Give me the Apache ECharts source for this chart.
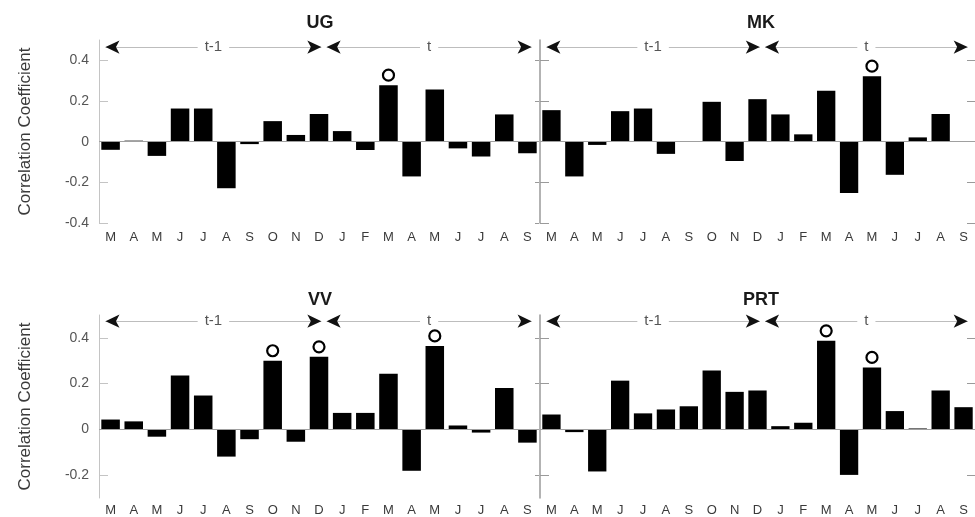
<!DOCTYPE html>
<html>
<head>
<meta charset="utf-8">
<script src="https://cdn.jsdelivr.net/npm/echarts@6/dist/echarts.min.js"></script>
<style>
html,body{margin:0;padding:0;background:#fff;}
#chart{width:975px;height:517px;}
</style>
</head>
<body>
<div id="chart"></div>
<script>
// ---- data ----
const months = ['M','A','M','J','J','A','S','O','N','D','J','F','M','A','M','J','J','A','S'];
const ugValues  = [-0.04, 0.005, -0.07, 0.163, 0.163, -0.229, -0.012, 0.101, 0.033, 0.136, 0.052, -0.041, 0.278, -0.171, 0.256, -0.033, -0.073, 0.134, -0.057];
const mkValues  = [0.155, -0.171, -0.016, 0.150, 0.163, -0.06, 0.003, 0.196, -0.095, 0.209, 0.134, 0.036, 0.25, -0.253, 0.322, -0.163, 0.021, 0.136, 0];
const vvValues  = [0.043, 0.035, -0.032, 0.236, 0.148, -0.119, -0.043, 0.30, -0.054, 0.317, 0.072, 0.072, 0.243, -0.181, 0.365, 0.017, -0.014, 0.181, -0.058];
const prtValues = [0.065, -0.012, -0.184, 0.213, 0.070, 0.087, 0.101, 0.257, 0.164, 0.170, 0.014, 0.029, 0.387, -0.199, 0.271, 0.080, 0.004, 0.170, 0.097];
const ugSignificant  = [12];
const mkSignificant  = [14];
const vvSignificant  = [7, 9, 14];
const prtSignificant = [12, 14];
const panelNames = ['UG', 'MK', 'VV', 'PRT'];
const periodNames = ['t-1', 't'];
const periodStart = [0.28, 9.83];   // in category units
const periodEnd   = [9.6, 18.68];
const yTicksTop    = [-0.4, -0.2, 0, 0.2, 0.4];
const yTicksBottom = [-0.2, 0, 0.2, 0.4];
const yTitle = 'Correlation Coefficient';

// ---- layout / style ----
const FONT = 'Liberation Sans, Arial, Helvetica, sans-serif';
const gridLeft = [99, 540];
const gridTop = [40, 315];
const gridW = 440, gridH = 183;
const yMin = [-0.4, -0.3], yMax = 0.5;
const arrowY = [0.465, 0.473];
const titleX = [320, 761];
const titleTop = [14, 291];
const labelMargin = [8, 6];

const panelValues = [ugValues, mkValues, vvValues, prtValues];
const panelSig = [ugSignificant, mkSignificant, vvSignificant, prtSignificant];

const option = {
  animation: false,
  backgroundColor: '#fff',
  textStyle: {fontFamily: FONT},
  title: [], grid: [], xAxis: [], yAxis: [], series: []
};
const fmt = v => (Math.abs(v) < 1e-9 ? '0' : v.toFixed(1));

for (let i = 0; i < 4; i++) {
  const row = Math.floor(i / 2), col = i % 2;
  option.grid.push({left: gridLeft[col], top: gridTop[row], width: gridW, height: gridH});
  option.title.push({text: panelNames[i], left: titleX[col], top: titleTop[row], textAlign: 'center', padding: 0,
    textStyle: {fontFamily: FONT, fontSize: 18, fontWeight: 'bold', color: '#1a1a1a'}});
}
for (let i = 0; i < 4; i++) {
  const row = Math.floor(i / 2);
  option.xAxis.push({type: 'category', gridIndex: i, data: months,
    axisLine: {show: false}, axisTick: {show: false}, splitLine: {show: false},
    axisLabel: {interval: 0, margin: labelMargin[row], color: '#3a3a3a', fontSize: 13, fontFamily: FONT}});
}
for (let i = 0; i < 4; i++) {
  option.xAxis.push({type: 'value', gridIndex: i, min: 0, max: months.length, show: false});
}
for (let i = 0; i < 4; i++) {
  const row = Math.floor(i / 2), col = i % 2;
  const ticks = row === 0 ? yTicksTop : yTicksBottom;
  const axColor = col === 0 ? '#c4c4c4' : '#9a9a9a';
  option.yAxis.push({type: 'value', gridIndex: i, position: 'left', min: yMin[row], max: yMax,
    name: col === 0 ? yTitle : '', nameLocation: 'middle', nameGap: 65,
    nameTextStyle: {fontFamily: FONT, fontSize: 17, color: '#3a3a3a'},
    axisLine: {show: true, lineStyle: {color: axColor, width: col === 0 ? 1 : 1.5}},
    axisTick: {show: true, inside: true, length: 9, customValues: ticks, lineStyle: {color: axColor}},
    axisLabel: {show: col === 0, customValues: ticks, formatter: fmt, color: '#555', fontSize: 14, margin: 10, fontFamily: FONT},
    splitLine: {show: false}});
}
for (let i = 0; i < 4; i++) {
  const row = Math.floor(i / 2), col = i % 2;
  const ticks = row === 0 ? yTicksTop : yTicksBottom;
  option.yAxis.push({type: 'value', gridIndex: i, position: 'right', min: yMin[row], max: yMax,
    axisLine: {show: col === 1, lineStyle: {color: '#9a9a9a'}},
    axisTick: {show: true, inside: true, length: col === 0 ? 4 : 8, customValues: ticks, lineStyle: {color: '#9a9a9a'}},
    axisLabel: {show: false}, splitLine: {show: false}});
}
for (let i = 0; i < 4; i++) {
  const row = Math.floor(i / 2);
  const vals = panelValues[i];
  option.series.push({type: 'bar', xAxisIndex: i, yAxisIndex: i, data: vals, barWidth: '80%',
    itemStyle: {color: '#000'},
    markLine: {silent: true, symbol: 'none', label: {show: false},
      lineStyle: {color: '#a0a0a0', width: 1, type: 'solid'}, data: [{yAxis: 0}]},
    markPoint: {symbol: 'circle', symbolSize: 11, symbolOffset: [0, -10], silent: true,
      itemStyle: {color: '#fff', borderColor: '#000', borderWidth: 2.2}, label: {show: false},
      data: panelSig[i].map(k => ({coord: [k, vals[k]]}))}
  });
  // period lines with labels
  option.series.push({type: 'line', xAxisIndex: 4 + i, yAxisIndex: i, data: [], silent: true,
    markLine: {silent: true, symbol: 'none',
      lineStyle: {color: '#bdbdbd', width: 1, type: 'solid'},
      label: {show: true, position: 'middle', formatter: '{b}', distance: 0, verticalAlign: 'middle',
        backgroundColor: '#fff', padding: [0, 7], color: '#555', fontSize: 15, fontFamily: FONT},
      data: periodNames.map((n, k) => [{name: n, coord: [periodStart[k], arrowY[row]]}, {coord: [periodEnd[k], arrowY[row]]}])}
  });
  // arrow heads
  option.series.push({type: 'line', xAxisIndex: 4 + i, yAxisIndex: i, data: [], silent: true,
    markLine: {silent: true, symbol: ['arrow', 'arrow'], symbolSize: [10, 14],
      lineStyle: {color: '#111', width: 0, type: 'solid'}, label: {show: false},
      data: periodNames.map((n, k) => [{coord: [periodStart[k], arrowY[row]]}, {coord: [periodEnd[k], arrowY[row]]}])}
  });
}

const chart = echarts.init(document.getElementById('chart'), null, {renderer: 'canvas'});
chart.setOption(option);
</script>
</body>
</html>
